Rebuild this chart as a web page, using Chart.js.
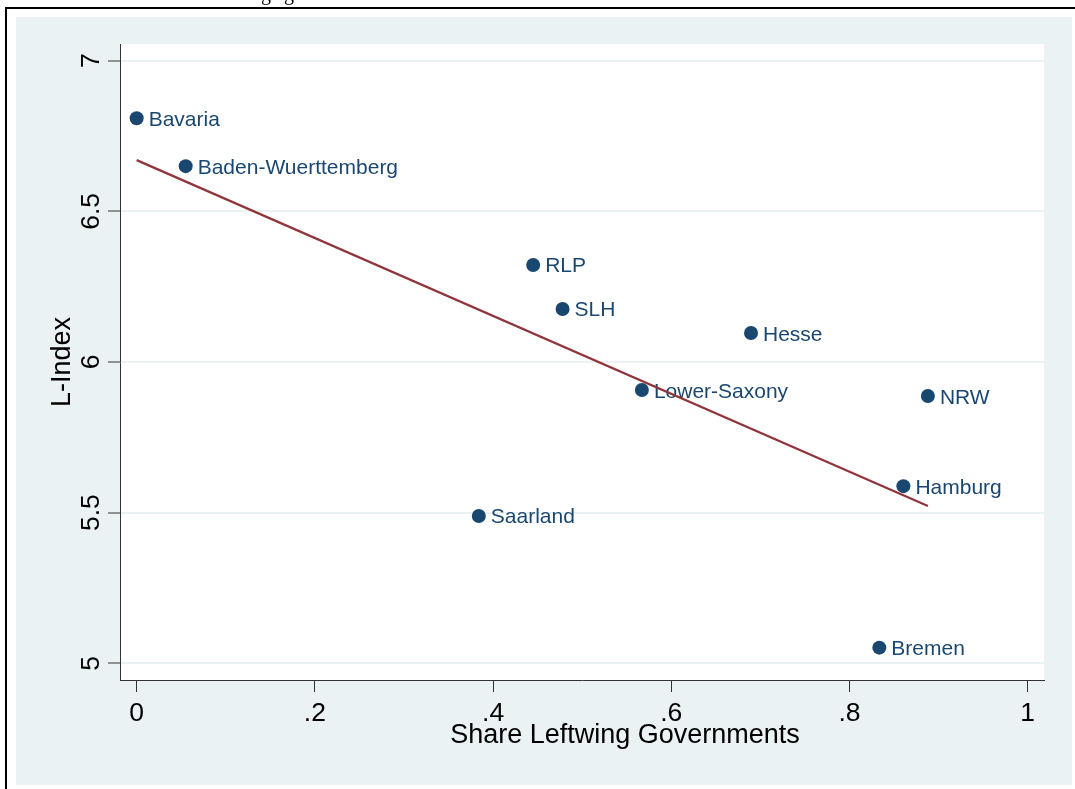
<!DOCTYPE html>
<html>
<head>
<meta charset="utf-8">
<script src="https://cdn.jsdelivr.net/npm/chart.js@4.4.1/dist/chart.umd.min.js"></script>
<style>
  html, body { margin: 0; padding: 0; background: #fff; }
  canvas { display: block; }
</style>
</head>
<body>
<canvas id="lChart" width="1075" height="789"></canvas>
<script>
// data
const states = ["Bavaria", "Baden-Wuerttemberg", "RLP", "SLH", "Hesse",
  "Lower-Saxony", "NRW", "Hamburg", "Saarland", "Bremen"];
const shareLeft = [0, 0.055, 0.445, 0.478, 0.6895, 0.567, 0.888, 0.8605, 0.384, 0.8335];
const lIndex = [6.809, 6.650, 6.322, 6.176, 6.096, 5.907, 5.887, 5.588, 5.489, 5.052];

// fitted line, end points
const fitX = [0, 0.888];
const fitY = [6.670, 5.522];

const xTicks = [0, 0.2, 0.4, 0.6, 0.8, 1];
const xTickLabels = ["0", ".2", ".4", ".6", ".8", "1"];
const yTicks = [5, 5.5, 6, 6.5, 7];
const yTickLabels = ["5", "5.5", "6", "6.5", "7"];

const FONT = "'Liberation Sans', Arial, sans-serif";
const BG = "#EAF2F3";
const NAVY = "#1A476F";

const backdrop = {
  id: "backdrop",
  beforeDraw(chart) {
    const c = chart.ctx, a = chart.chartArea;
    c.save();
    c.fillStyle = "#fff";
    c.fillRect(0, 0, chart.width, chart.height);
    // cut off caption above the frame
    c.fillStyle = "#000";
    c.font = "20px 'Liberation Serif', 'Times New Roman', serif";
    c.textAlign = "center";
    c.textBaseline = "alphabetic";
    c.fillText("g", 266, 0);
    c.fillText("g", 289, 0);
    // frame
    c.fillRect(5, 7, 2, chart.height - 7);
    c.fillRect(5, 7, chart.width - 5, 2);
    c.fillStyle = BG;
    c.fillRect(16, 17, 1056, 768);
    c.fillStyle = "#fff";
    c.fillRect(a.left, a.top, a.right - a.left, a.bottom - a.top);
    c.restore();
  },
  afterDraw(chart) {
    const c = chart.ctx, a = chart.chartArea;
    const xs = chart.scales.x, ys = chart.scales.y;
    c.save();
    c.fillStyle = "#000";
    c.font = "26.5px " + FONT;
    c.textAlign = "center";
    c.textBaseline = "alphabetic";
    xTicks.forEach((v, i) => {
      c.fillText(xTickLabels[i], xs.getPixelForValue(v), 721);
    });
    yTicks.forEach((v, i) => {
      c.save();
      c.translate(98.5, ys.getPixelForValue(v));
      c.rotate(-Math.PI / 2);
      c.fillText(yTickLabels[i], 0, 0);
      c.restore();
    });
    c.font = "27px " + FONT;
    c.fillText("Share Leftwing Governments", 625, 743);
    c.save();
    c.translate(70, (a.top + a.bottom) / 2);
    c.rotate(-Math.PI / 2);
    c.fillText("L-Index", 0, 0);
    c.restore();
    c.restore();
  }
};

const pointNames = {
  id: "pointNames",
  afterDatasetDraw(chart, args) {
    if (args.index !== 1) return;
    const c = chart.ctx;
    c.save();
    c.fillStyle = NAVY;
    c.font = "21px " + FONT;
    c.textAlign = "left";
    c.textBaseline = "alphabetic";
    args.meta.data.forEach((pt, i) => {
      c.fillText(states[i], pt.x + 12, pt.y + 7.5);
    });
    c.restore();
  }
};

new Chart(document.getElementById("lChart"), {
  type: "scatter",
  data: {
    datasets: [
      {
        type: "line",
        data: fitX.map((x, i) => ({ x: x, y: fitY[i] })),
        borderColor: "#90353B",
        borderWidth: 2.2,
        pointRadius: 0,
        fill: false,
      },
      {
        data: shareLeft.map((x, i) => ({ x: x, y: lIndex[i] })),
        backgroundColor: NAVY,
        borderWidth: 0,
        pointRadius: 7,
      },
    ],
  },
  options: {
    responsive: false,
    animation: false,
    devicePixelRatio: 1,
    layout: { padding: { left: 108, top: 44, right: 31, bottom: 97 } },
    plugins: { legend: { display: false }, tooltip: { enabled: false } },
    scales: {
      x: {
        type: "linear",
        min: -0.0187,
        max: 1.0183,
        afterBuildTicks: (axis) => { axis.ticks = xTicks.map((v) => ({ value: v })); },
        ticks: { display: false },
        grid: { drawOnChartArea: false, tickLength: 12, tickColor: "#333", tickWidth: 1 },
        border: { color: "#333", width: 1 },
      },
      y: {
        type: "linear",
        min: 4.9446,
        max: 7.0554,
        afterBuildTicks: (axis) => { axis.ticks = yTicks.map((v) => ({ value: v })); },
        ticks: { display: false },
        grid: { color: BG, lineWidth: 2, tickLength: 12, tickColor: "#333", tickWidth: 1 },
        border: { color: "#333", width: 1 },
      },
    },
  },
  plugins: [backdrop, pointNames],
});
</script>
</body>
</html>
